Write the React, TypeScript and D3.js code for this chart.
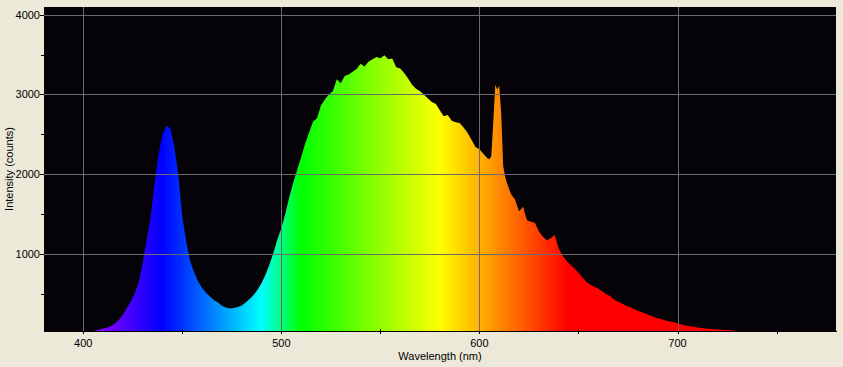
import React from "react";
import * as d3 from "d3";

// spectrum readings (nm, counts)
const wavelengths = [
  400, 402, 404, 406, 408, 410, 412, 414, 416, 418, 420, 422, 424, 426, 428, 430, 432, 434, 436, 438,
  440, 442, 444, 446, 448, 450, 452, 454, 456, 458, 460, 462, 464, 466, 468, 470, 472, 474, 476, 478,
  480, 482, 484, 486, 488, 490, 492, 494, 496, 498, 500, 502, 504, 506, 508, 510, 512, 514, 516, 518,
  520, 522, 524, 526, 528, 530, 532, 534, 536, 538, 540, 542, 544, 546, 548, 550, 552, 554, 556, 558,
  560, 562, 564, 566, 568, 570, 572, 574, 576, 578, 580, 582, 584, 586, 588, 590, 592, 594, 596, 598,
  600, 602, 604, 605, 606, 607, 608, 609, 610, 611, 612, 613, 614, 616, 618, 620, 622, 624, 626, 628,
  630, 632, 634, 636, 638, 640, 642, 644, 646, 648, 650, 652, 654, 656, 658, 660, 662, 664, 666, 668,
  670, 672, 674, 676, 678, 680, 682, 684, 686, 688, 690, 692, 694, 696, 698, 700, 702, 704, 706, 708,
  710, 712, 714, 716, 718, 720, 722, 724, 726, 728, 730,
];

const counts = [
  0, 0, 12, 35, 50, 60, 72, 92, 125, 170, 235, 315, 400, 505, 640, 880, 1170, 1450, 1880, 2240,
  2500, 2610, 2570, 2340, 1990, 1460, 1150, 905, 765, 650, 570, 510, 462, 420, 388, 348, 326, 312, 320, 332,
  350, 388, 432, 482, 548, 630, 735, 862, 1010, 1180, 1320, 1500, 1710, 1890, 2050, 2210, 2380, 2520, 2660, 2700,
  2860, 2935, 3000, 3040, 3190, 3140, 3230, 3250, 3285, 3320, 3385, 3350, 3410, 3440, 3470, 3455, 3490, 3440, 3450, 3340,
  3325, 3270, 3200, 3120, 3070, 3040, 2995, 2950, 2905, 2880, 2800, 2725, 2740, 2670, 2650, 2640, 2585, 2520, 2430, 2340,
  2310, 2255, 2200, 2185, 2225, 2650, 3120, 3060, 3110, 2760, 2100, 1965, 1880, 1745, 1680, 1530, 1590, 1420, 1400, 1390,
  1280, 1215, 1170, 1195, 1235, 1065, 975, 912, 860, 815, 760, 700, 645, 610, 585, 560, 530, 492, 470, 422,
  396, 374, 346, 332, 305, 282, 266, 246, 226, 205, 190, 176, 162, 150, 140, 126, 112, 100, 90, 82,
  75, 68, 62, 57, 53, 50, 46, 43, 42, 38, 0,
];

const xMajor = [400, 500, 600, 700];
const xMinor = [450, 550, 650, 750];
const yMajor = [1000, 2000, 3000, 4000];
const yMinor = [500, 1500, 2500, 3500];

// wavelength -> colour stops for the fill
const colorStops: [number, string][] = [
  [380, "#ff00ff"],
  [440, "#0000ff"],
  [490, "#00ffff"],
  [510, "#00ff00"],
  [580, "#ffff00"],
  [645, "#ff0000"],
  [780, "#ff0000"],
];

const W = 843;
const H = 367;
const plot = { left: 44, right: 836, top: 7, bottom: 331 };
const font = "'Liberation Sans', Arial, sans-serif";

export default function App() {
  const x = d3.scaleLinear().domain([380.2, 780]).range([plot.left, plot.right]);
  const y = d3.scaleLinear().domain([30, 4097]).range([plot.bottom, plot.top]);

  const pts = wavelengths.map((w, i) => [w, counts[i]] as [number, number]);
  const area = d3
    .area<[number, number]>()
    .x((d) => x(d[0]))
    .y0(plot.bottom)
    .y1((d) => y(Math.max(d[1], 0)))
    .curve(d3.curveLinear);

  const x0 = x(380);
  const x1 = x(780);

  return (
    <svg
      width={W}
      height={H}
      style={{ position: "absolute", left: 0, top: 0, display: "block" }}
    >
      <defs>
        <linearGradient id="spec" gradientUnits="userSpaceOnUse" x1={x0} x2={x1} y1={0} y2={0}>
          {colorStops.map(([w, c]) => (
            <stop key={w} offset={(x(w) - x0) / (x1 - x0)} stopColor={c} />
          ))}
        </linearGradient>
        <clipPath id="plotClip">
          <rect x={plot.left} y={plot.top} width={plot.right - plot.left} height={plot.bottom - plot.top} />
        </clipPath>
      </defs>

      <rect width={W} height={H} fill="#ece9d8" />
      <rect
        x={plot.left}
        y={plot.top}
        width={plot.right - plot.left}
        height={plot.bottom - plot.top}
        fill="#050308"
      />

      <path d={area(pts) ?? ""} fill="url(#spec)" clipPath="url(#plotClip)" />

      {/* grid on top of the spectrum */}
      <g stroke="#6b6b6b" strokeWidth={1} shapeRendering="crispEdges">
        {xMajor.map((v) => (
          <line key={v} x1={Math.round(x(v)) + 0.5} x2={Math.round(x(v)) + 0.5} y1={plot.top} y2={plot.bottom} />
        ))}
        {yMajor.map((v) => (
          <line key={v} x1={plot.left} x2={plot.right} y1={Math.round(y(v)) + 0.5} y2={Math.round(y(v)) + 0.5} />
        ))}
      </g>

      {/* axes */}
      <g stroke="#000" strokeWidth={1} shapeRendering="crispEdges">
        <line x1={plot.left} x2={plot.right + 1} y1={plot.bottom + 0.5} y2={plot.bottom + 0.5} />
        {xMajor.map((v) => (
          <line key={v} x1={Math.round(x(v)) + 0.5} x2={Math.round(x(v)) + 0.5} y1={plot.bottom} y2={plot.bottom + 3} />
        ))}
        {xMinor.map((v) => (
          <line key={v} x1={Math.round(x(v)) + 0.5} x2={Math.round(x(v)) + 0.5} y1={plot.bottom - 2} y2={plot.bottom + 3} />
        ))}
        {yMajor.map((v) => (
          <line key={v} x1={plot.left - 4} x2={plot.left} y1={Math.round(y(v)) + 0.5} y2={Math.round(y(v)) + 0.5} />
        ))}
        {yMinor.map((v) => (
          <line key={v} x1={plot.left - 3} x2={plot.left} y1={Math.round(y(v)) + 0.5} y2={Math.round(y(v)) + 0.5} />
        ))}
      </g>

      <g fontFamily={font} fontSize={11} fill="#000">
        {xMajor.map((v) => (
          <text key={v} x={x(v)} y={347} textAnchor="middle">
            {v}
          </text>
        ))}
        {yMajor.map((v) => (
          <text key={v} x={40} y={y(v)} dy="0.36em" textAnchor="end">
            {v}
          </text>
        ))}
        <text x={(plot.left + plot.right) / 2} y={360} textAnchor="middle">
          Wavelength (nm)
        </text>
        <text transform={`translate(13, ${(plot.top + plot.bottom) / 2}) rotate(-90)`} textAnchor="middle">
          Intensity (counts)
        </text>
      </g>
    </svg>
  );
}
